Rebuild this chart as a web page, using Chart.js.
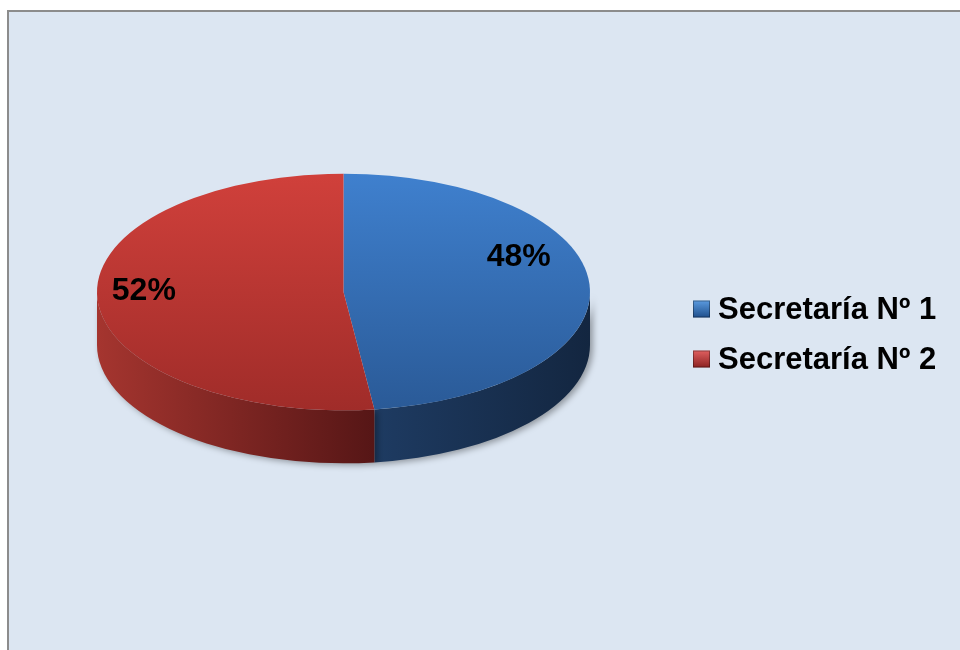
<!DOCTYPE html>
<html>
<head>
<meta charset="utf-8">
<script src="https://cdn.jsdelivr.net/npm/chart.js@4.4.1/dist/chart.umd.min.js"></script>
<style>
  html, body { margin: 0; padding: 0; background: #fff; }
  canvas { display: block; }
</style>
</head>
<body>
<canvas id="chart" width="960" height="650"></canvas>
<script>
const labels = ['Secretaría Nº 1', 'Secretaría Nº 2'];
const values = [48, 52];

const topColors = [['#3f80ce', '#2a5a97'], ['#d0403b', '#a02c29']];
const sideColors = [['#1e3b62', '#132640'], ['#a5352f', '#561616']];
const legendColors = [['#5b9be0', '#1f4f8c'], ['#e06060', '#8c2222']];

const squash = 0.48;   // vertical squash of the top face
const depth = 53;      // thickness of the disc
// where the % labels sit: angle nudge and radius fraction per slice
const labelShift = [-19 * Math.PI / 180, 4 * Math.PI / 180];
const labelRadius = [0.77, 0.81];

const pie3d = {
  id: 'pie3d',
  beforeDraw(chart) {
    const ctx = chart.ctx;
    ctx.save();
    ctx.fillStyle = '#ffffff';
    ctx.fillRect(0, 0, chart.width, chart.height);
    ctx.fillStyle = '#dce6f2';
    ctx.fillRect(7, 10, chart.width - 7, chart.height - 10);
    ctx.fillStyle = '#8c8c8c';
    ctx.fillRect(7, 10, 2, chart.height - 10);
    ctx.fillRect(7, 10, chart.width - 7, 2);
    ctx.restore();
  },
  beforeDatasetsDraw(chart) {
    const ctx = chart.ctx;
    const arcs = chart.getDatasetMeta(0).data;
    // side walls, only the front half (0..PI) is visible
    arcs.forEach((arc, i) => {
      const { x, y, startAngle, endAngle, outerRadius: r } =
        arc.getProps(['x', 'y', 'startAngle', 'endAngle', 'outerRadius'], true);
      const a0 = Math.max(startAngle, 0);
      const a1 = Math.min(endAngle, Math.PI);
      if (a1 <= a0) return;
      const x0 = x + r * Math.cos(a0), x1 = x + r * Math.cos(a1);
      const g = ctx.createLinearGradient(Math.min(x0, x1), 0, Math.max(x0, x1), 0);
      g.addColorStop(0, sideColors[i][0]);
      g.addColorStop(1, sideColors[i][1]);
      ctx.save();
      ctx.shadowColor = 'rgba(0,0,0,0.35)';
      ctx.shadowBlur = 6;
      ctx.shadowOffsetX = 3;
      ctx.shadowOffsetY = 2;
      ctx.beginPath();
      ctx.ellipse(x, y, r, r * squash, 0, a0, a1);
      ctx.ellipse(x, y + depth, r, r * squash, 0, a1, a0, true);
      ctx.closePath();
      ctx.fillStyle = g;
      ctx.fill();
      ctx.restore();
    });
    // squash the top face drawn by chart.js
    const cy = arcs[0].y;
    ctx.save();
    ctx.translate(0, cy);
    ctx.scale(1, squash);
    ctx.translate(0, -cy);
  },
  afterDatasetsDraw(chart) {
    const ctx = chart.ctx;
    ctx.restore();
    const arcs = chart.getDatasetMeta(0).data;
    const total = values.reduce((a, b) => a + b, 0);
    ctx.save();
    ctx.font = 'bold 32px "Liberation Sans", Arial, sans-serif';
    ctx.fillStyle = '#000';
    ctx.textAlign = 'center';
    ctx.textBaseline = 'middle';
    arcs.forEach((arc, i) => {
      const { x, y, startAngle, endAngle, outerRadius: r } =
        arc.getProps(['x', 'y', 'startAngle', 'endAngle', 'outerRadius'], true);
      const mid = (startAngle + endAngle) / 2 + labelShift[i];
      const k = labelRadius[i];
      const lx = x + k * r * Math.cos(mid);
      const ly = y + k * r * Math.sin(mid) * squash;
      ctx.fillText(Math.round(values[i] / total * 100) + '%', lx, ly);
    });
    ctx.restore();
  },
  afterDraw(chart) {
    // legend on the right
    const ctx = chart.ctx;
    ctx.save();
    ctx.font = 'bold 31px "Liberation Sans", Arial, sans-serif';
    ctx.textBaseline = 'middle';
    labels.forEach((lab, i) => {
      const yy = 309 + i * 50;
      const bx = 693, by = yy - 8.5, s = 17;
      const g = ctx.createLinearGradient(0, by, 0, by + s);
      g.addColorStop(0, legendColors[i][0]);
      g.addColorStop(1, legendColors[i][1]);
      ctx.fillStyle = g;
      ctx.fillRect(bx, by, s, s);
      ctx.strokeStyle = 'rgba(0,0,0,0.35)';
      ctx.lineWidth = 1;
      ctx.strokeRect(bx + 0.5, by + 0.5, s - 1, s - 1);
      ctx.fillStyle = '#000';
      ctx.fillText(lab, 718, yy + 1);
    });
    ctx.restore();
  }
};

function topFill(context) {
  const i = context.dataIndex;
  const ca = context.chart.chartArea;
  if (!ca || i === undefined) return topColors[0][0];
  const g = context.chart.ctx.createLinearGradient(0, ca.top, 0, ca.bottom);
  g.addColorStop(0, topColors[i][0]);
  g.addColorStop(1, topColors[i][1]);
  return g;
}

new Chart(document.getElementById('chart'), {
  type: 'pie',
  data: {
    labels: labels,
    datasets: [{
      data: values,
      backgroundColor: topFill,
      borderWidth: 0
    }]
  },
  options: {
    responsive: false,
    animation: false,
    events: [],
    layout: { padding: { left: 97, right: 370, top: 45.5, bottom: 111.5 } },
    plugins: {
      legend: { display: false },
      tooltip: { enabled: false }
    }
  },
  plugins: [pie3d]
});
</script>
</body>
</html>
